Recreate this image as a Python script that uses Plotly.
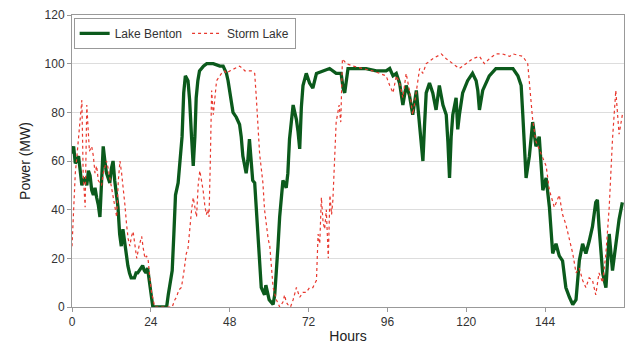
import plotly.graph_objects as go

benton_hours = [0, 0.5, 1, 1.5, 2, 2.5, 3, 3.5, 4, 4.5, 5, 5.5, 6, 6.5, 7, 7.5, 8, 8.5, 9, 9.5, 10, 10.5, 11, 11.5, 12, 12.5, 13, 13.5, 14, 14.5, 15, 15.5, 16, 16.5, 17, 17.5, 18, 19, 19.5, 20, 21, 21.5, 22, 22.5, 23, 23.5, 24, 24.6, 28.8, 29.3, 30, 30.5, 31, 31.5, 32.3, 33, 33.5, 34, 34.5, 35.3, 35.8, 36.3, 36.9, 37.4, 37.8, 38.3, 38.8, 40, 41, 43, 45, 46, 47, 47.5, 48, 48.5, 49, 50, 51, 51.5, 52, 53, 53.5, 54, 54.5, 55, 55.6, 56.1, 56.6, 57.1, 57.6, 58.6, 59, 60, 61.2, 61.7, 62.2, 62.7, 63.2, 63.7, 64.2, 65.2, 65.7, 66.2, 66.7, 67.3, 67.8, 68.3, 68.8, 69.3, 69.8, 70.3, 71.3, 72.3, 73.3, 74.4, 76.4, 78.4, 80.4, 81.9, 82.5, 83, 84, 86.5, 89.5, 92.6, 95.6, 96.7, 97.7, 98.7, 99.7, 100.7, 101.7, 102.7, 103.7, 104.8, 105.8, 106.3, 106.8, 107.3, 107.8, 108.8, 109.8, 110.8, 111.8, 112.9, 113.9, 114.4, 114.9, 115.4, 115.9, 116.9, 117.4, 117.9, 118.9, 120.4, 121.9, 123, 123.5, 124, 125, 127, 129, 131, 132, 134.2, 135.7, 136.7, 137.2, 137.7, 138.2, 139.2, 140.2, 141.2, 142.2, 143.3, 144.3, 145.3, 146.3, 147.3, 148.3, 149.3, 150.3, 151.4, 152.4, 153.4, 154.4, 155.4, 156.4, 157.4, 158.4, 159.4, 159.9, 160.4, 161.5, 162.5, 163.5, 164.5, 165.5, 166.5, 167.5]
benton_mw = [63, 66, 59, 60, 62, 55, 50, 52, 53, 50, 56, 54, 48, 46, 49, 45, 42, 37, 55, 66, 60, 55, 53, 51, 57, 60, 52, 47, 41, 30, 25, 32, 26, 20, 17, 14, 12, 12, 14, 14, 16, 17, 15, 14, 16, 10, 6, 0, 0, 5, 12, 15, 30, 46, 51, 62, 70, 88, 95, 93, 85, 72, 58, 70, 86, 93, 97, 99, 100, 100, 99, 99, 96, 93, 89, 84, 80, 78, 75, 70, 62, 55, 60, 69, 58, 52, 51, 40, 25, 15, 8, 5, 9, 3, 1, 5, 14, 25, 37, 45, 52, 49, 55, 69, 76, 83, 80, 77, 72, 65, 82, 91, 96, 92, 90, 96, 97, 98, 96, 96, 90, 88, 98, 98, 98, 97, 97, 98, 95, 96, 92, 83, 91, 87, 79, 89, 75, 68, 60, 75, 88, 92, 88, 81, 91, 83, 79, 68, 53, 70, 79, 86, 73, 79, 88, 93, 96, 93, 89, 81, 89, 95, 98, 98, 98, 98, 95, 91, 79, 62, 53, 62, 76, 66, 70, 48, 53, 41, 22, 26, 21, 19, 8, 4, 1, 3, 19, 26, 22, 27, 33, 43, 44, 33, 14, 8, 30, 15, 25, 36, 43]

storm_hours = [0, 0.5, 1, 1.5, 2, 2.5, 3, 3.4, 4, 4.5, 5.3, 6, 6.5, 7, 7.5, 8, 8.5, 9, 9.5, 10.5, 11, 11.5, 12, 12.6, 13.1, 13.6, 14.1, 14.6, 15.1, 15.6, 16.1, 16.6, 17.1, 17.6, 18.1, 18.6, 19.2, 19.7, 20.4, 21.2, 21.7, 22.2, 22.7, 23.2, 23.7, 24.2, 25.2, 30.5, 31.3, 31.8, 32.5, 33.3, 34, 34.8, 35.3, 35.8, 36.4, 36.9, 37.4, 37.9, 38.4, 38.9, 39.4, 39.9, 40.4, 40.9, 41.3, 41.7, 42.1, 42.5, 43, 43.5, 44, 45, 45.5, 46.5, 47, 48, 49.5, 50.5, 51, 52, 52.6, 54.6, 55.6, 56.1, 56.6, 57.1, 57.6, 58.1, 58.6, 59.2, 59.7, 60.2, 60.7, 61.2, 62.2, 63.2, 64.2, 64.7, 65.2, 65.7, 66.5, 67.3, 68.3, 69.3, 70.3, 71.3, 72.3, 73.3, 74.4, 74.9, 75.4, 75.9, 76.4, 76.9, 77.4, 78, 78.5, 79, 79.4, 80, 80.4, 81.3, 81.8, 82.3, 83.5, 85.5, 88.6, 91.6, 93.6, 95.6, 96.7, 97.7, 98.7, 99.7, 100.7, 101.7, 102.7, 103.2, 103.7, 104.2, 104.8, 105.8, 106.8, 107.8, 109.8, 112.4, 113.9, 115.9, 117.9, 119.9, 121.9, 124, 125.5, 127, 129, 131, 133.2, 134.2, 137.2, 138.7, 139.2, 140.2, 141.2, 142.8, 144.3, 145.3, 146.8, 148.3, 149.3, 150.3, 151.4, 152.4, 153.4, 154.4, 155.4, 156.4, 157.4, 158.4, 159.4, 160.4, 161.5, 162.5, 163.5, 164.5, 165.5, 166.5, 167.5]
storm_mw = [25, 40, 55, 62, 69, 78, 85, 55, 41, 83, 64, 66, 62, 55, 58, 52, 51, 50, 55, 60, 57, 53, 50, 45, 42, 37, 52, 60, 55, 49, 42, 34, 28, 25, 29, 31, 26, 20, 25, 29, 24, 20, 21, 19, 12, 6, 0, 0, 3, 4, 7, 8, 14, 22, 24, 33, 40, 45, 40, 37, 50, 56, 52, 48, 42, 38, 40, 37, 60, 89, 79, 88, 93, 95, 96, 97, 96, 97, 98, 99, 99, 98, 97, 97, 96, 86, 75, 63, 57, 51, 40, 32, 28, 25, 15, 8, 3, 0, 2, 5, 2, 1, 0, 3, 8, 4, 6, 6, 8, 8, 11, 30, 26, 45, 35, 32, 40, 20, 46, 38, 44, 62, 76, 83, 76, 102, 100, 99, 98, 97, 96, 95, 91, 88, 95, 92, 86, 96, 89, 84, 79, 83, 88, 98, 96, 100, 102, 104, 102, 100, 98, 100, 102, 103, 100, 102, 104, 104, 103, 104, 103, 100, 92, 77, 68, 63, 58, 48, 41, 46, 38, 34, 27, 22, 14, 16, 11, 8, 12, 11, 5, 14, 10, 22, 41, 69, 89, 71, 79]

x_ticks = [0, 24, 48, 72, 96, 120, 144]
y_ticks = [0, 20, 40, 60, 80, 100, 120]

fig = go.Figure()
fig.add_trace(go.Scatter(x=benton_hours, y=benton_mw, mode="lines", name="Lake Benton",
                         line=dict(color="#0b5a1c", width=3.3)))
fig.add_trace(go.Scatter(x=storm_hours, y=storm_mw, mode="lines", name="Storm Lake",
                         line=dict(color="#e8382e", width=1.2, dash="dot")))

fig.update_layout(
    width=625, height=351,
    margin=dict(l=72, r=1, t=15, b=44),
    paper_bgcolor="white", plot_bgcolor="white",
    font=dict(family="Liberation Sans, Arial, sans-serif", size=12, color="#333333"),
    legend=dict(x=0.003, y=0.99, xanchor="left", yanchor="top", orientation="h",
                bgcolor="white", bordercolor="#999999", borderwidth=1,
                font=dict(size=12, color="#333333"), tracegroupgap=0),
    showlegend=True,
)
fig.update_xaxes(range=[0, 168], tickvals=x_ticks, ticktext=[str(v) for v in x_ticks],
                 showgrid=False, showline=True, linecolor="#999999", linewidth=1, mirror=True,
                 ticks="outside", ticklen=4, tickcolor="#999999", automargin=False,
                 title=dict(text="Hours", font=dict(size=14, color="#222222"), standoff=2),
                 zeroline=False)
fig.update_yaxes(range=[0, 120], tickvals=y_ticks,
                 showgrid=True, gridcolor="#dddddd", gridwidth=1,
                 showline=True, linecolor="#999999", linewidth=1, mirror=True,
                 ticks="outside", ticklen=4, tickcolor="#999999", automargin=False,
                 title=dict(text="Power (MW)", font=dict(size=14, color="#222222"), standoff=10),
                 zeroline=False)

fig.write_html("out.html", config={"displayModeBar": False},
               post_script="document.body.style.margin='0';document.body.style.overflow='hidden';")
